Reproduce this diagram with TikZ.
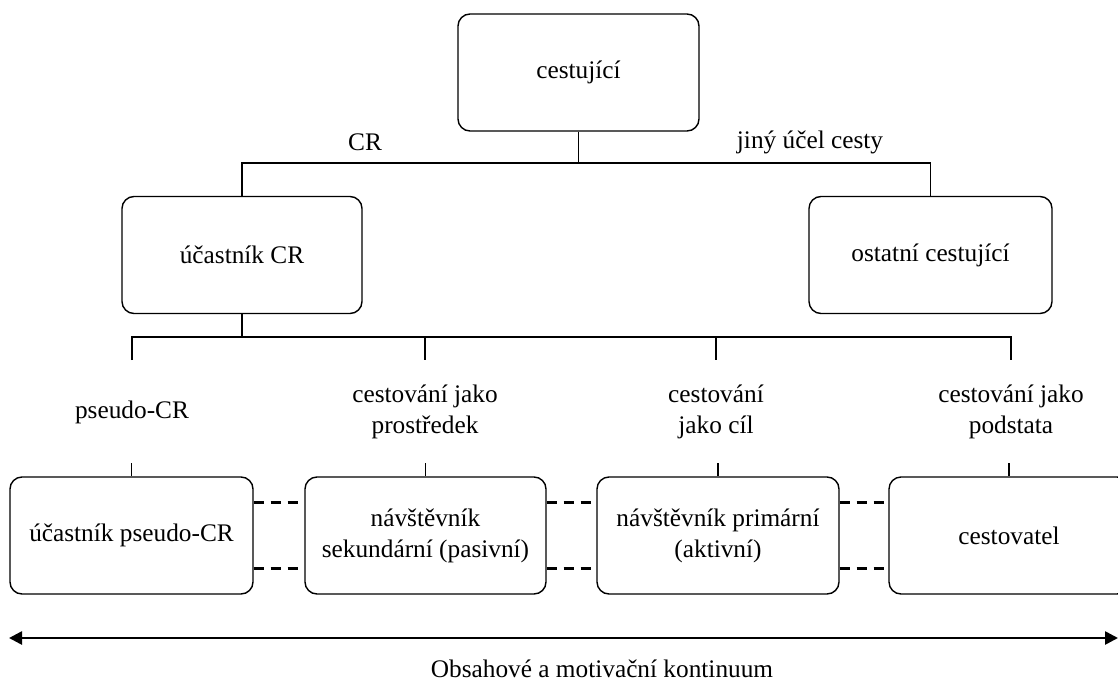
\documentclass[tikz,border=0pt]{standalone}
\usepackage{fontspec}
\setmainfont{Liberation Serif}
\usetikzlibrary{arrows.meta}
\begin{document}
\begin{tikzpicture}[x=1pt,y=-1pt,
  box/.style={draw, line width=1.4pt, rounded corners=12pt, minimum height=117pt, inner sep=0pt, align=center},
  lbl/.style={inner sep=0pt, align=center},
  conn/.style={line width=1.4pt},
  dashline/.style={line width=3pt, dash pattern=on 10pt off 7pt},
  every node/.style={font=\fontsize{25.3}{31}\selectfont}]
\useasboundingbox (0,0) rectangle (1118,682);
\clip (0,0) rectangle (1118,682);
% top level
\node[box, minimum width=241pt] (top) at (578.5,72.5) {cestující};
\node[box, minimum width=240pt] (ucr) at (242,255) {účastník CR};
\node[box, minimum width=243pt] (ost) at (930.5,255) {ostatní cestující};
\node[lbl] (lcr) at (365,142) {CR};
\node[lbl] (ljiny) at (810,142) {jiný účel cesty};
\coordinate (j1) at (578.5,163);
\draw[conn] (top.south) -- (j1);
\draw[conn] (ucr.north) |- (j1) -| (ost.north);
% bottom level boxes
\node[box, minimum width=243pt] (b1) at (131.5,535.5) {účastník pseudo-CR};
\node[box, minimum width=241pt] (b2) at (425.5,535.5) {návštěvník\\sekundární (pasivní)};
\node[box, minimum width=242pt] (b3) at (718,535.5) {návštěvník primární\\(aktivní)};
\node[box, minimum width=240pt] (b4) at (1009,535.5) {cestovatel};
% labels
\node[lbl] (l1) at (132,412) {pseudo-CR};
\node[lbl] (l2) at (425,412) {cestování jako\\prostředek};
\node[lbl] (l3) at (716,412) {cestování\\jako cíl};
\node[lbl] (l4) at (1011,412) {cestování jako\\podstata};
% tree connectors
\coordinate (a1) at (132,337);
\coordinate (a2) at (425,337);
\coordinate (a3) at (716,337);
\coordinate (a4) at (1011,337);
\draw[conn] (ucr.south) -- (ucr.south |- a1);
\draw[conn] (a1 |- 0,360) -- (a1) -- (a4) -- (a4 |- 0,360);
\draw[conn] (a2) -- (a2 |- 0,360);
\draw[conn] (a3) -- (a3 |- 0,360);
\foreach \i in {1,2,3,4}{
  \draw[conn] (b\i.north |- 0,463) -- (b\i.north);
}
% dashed links
\draw[dashline] (b1.east |- 0,502) -- (b2.west |- 0,502);
\draw[dashline] (b1.east |- 0,568) -- (b2.west |- 0,568);
\draw[dashline] (b2.east |- 0,502) -- (b3.west |- 0,502);
\draw[dashline] (b2.east |- 0,568) -- (b3.west |- 0,568);
\draw[dashline] (b3.east |- 0,502) -- (b4.west |- 0,502);
\draw[dashline] (b3.east |- 0,568) -- (b4.west |- 0,568);
% continuum arrow
\coordinate (arL) at (9,638);
\coordinate (arR) at (1118,638);
\draw[line width=2.6pt, {Triangle[length=13pt,width=13pt]}-{Triangle[length=13pt,width=13pt]}] (arL) -- (arR);
\node[lbl] (cont) at (602,669) {Obsahové a motivační kontinuum};
\end{tikzpicture}
\end{document}
